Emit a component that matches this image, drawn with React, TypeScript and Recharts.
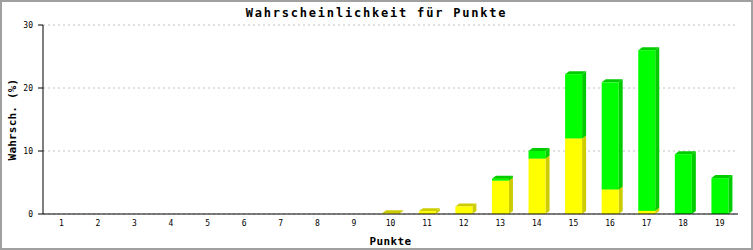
import React from "react";
import {
  BarChart,
  Bar,
  XAxis,
  YAxis,
  CartesianGrid,
  Label,
} from "recharts";

const MONO = '"DejaVu Sans Mono", "Liberation Mono", monospace';

const punkte = [
  "1", "2", "3", "4", "5", "6", "7", "8", "9", "10",
  "11", "12", "13", "14", "15", "16", "17", "18", "19",
];

// yellow part (lower stack)
const gelb = [0, 0, 0, 0, 0, 0, 0, 0, 0, 0.1, 0.45, 1.2, 5.3, 8.8, 12.0, 3.9, 0.5, 0, 0];

// green part (upper stack)
const gruen = [0, 0, 0, 0, 0, 0, 0, 0, 0, 0, 0, 0, 0.3, 1.2, 10.2, 17.0, 25.5, 9.5, 5.7];

const yTicks = [0, 10, 20, 30];

const data = punkte.map((p, i) => ({
  punkte: p,
  gelb: gelb[i],
  gruen: gruen[i],
}));

const DX = 4;
const DY = 3;

function make3D(front: string, dark: string) {
  return (props: any) => {
    const { x, y, width, height } = props;
    if (!height || height <= 0) return <g />;
    const r = x + width;
    const b = y + height;
    return (
      <g>
        <polygon
          points={`${x},${y} ${x + DX},${y - DY} ${r + DX},${y - DY} ${r},${y}`}
          fill={dark}
        />
        <polygon
          points={`${r},${y} ${r + DX},${y - DY} ${r + DX},${b - DY} ${r},${b}`}
          fill={dark}
        />
        <rect x={x} y={y} width={width} height={height} fill={front} />
      </g>
    );
  };
}

export default function App() {
  return (
    <div
      style={{
        position: "absolute",
        left: 0,
        top: 0,
        width: 753,
        height: 250,
        background: "#fff",
        fontFamily: MONO,
      }}
    >
      <div
        style={{
          position: "absolute",
          left: 0,
          top: 4,
          width: 753,
          textAlign: "center",
          fontSize: 12,
          fontWeight: "bold",
          letterSpacing: 1.8,
          lineHeight: "18px",
        }}
      >
        Wahrscheinlichkeit für Punkte
      </div>

      <BarChart
        width={753}
        height={250}
        data={data}
        margin={{ top: 25, right: 15, bottom: 0, left: 0 }}
        barSize={17}
        style={{ position: "absolute", left: 0, top: 0 }}
      >
        <CartesianGrid vertical={false} stroke="#c0c0c0" strokeDasharray="2 3" />
        <XAxis
          dataKey="punkte"
          height={36}
          axisLine={{ stroke: "#000" }}
          tickLine={false}
          tickSize={6}
          tickMargin={0}
          tick={{ fill: "#000", fontSize: 8, fontFamily: MONO }}
          interval={0}
        >
          <Label
            value="Punkte"
            position="insideBottom"
            offset={5}
            style={{
              fontFamily: MONO,
              fontSize: 11,
              fontWeight: "bold",
              fill: "#000",
              letterSpacing: 0.4,
            }}
          />
        </XAxis>
        <YAxis
          width={43}
          domain={[0, 30]}
          ticks={yTicks}
          axisLine={{ stroke: "#000" }}
          tickLine={{ stroke: "#000" }}
          tickSize={5}
          tickMargin={5}
          tick={{ fill: "#000", fontSize: 8, fontFamily: MONO }}
        >
          <Label
            content={(p: any) => {
              const vb = p.viewBox || { y: 25, height: 189 };
              const cy = vb.y + vb.height / 2;
              return (
                <text
                  x={12}
                  y={cy}
                  transform={`rotate(-90, 12, ${cy})`}
                  textAnchor="middle"
                  dominantBaseline="central"
                  style={{
                    fontFamily: MONO,
                    fontSize: 11,
                    fontWeight: "bold",
                    fill: "#000",
                    letterSpacing: 0.2,
                  }}
                >
                  Wahrsch. (%)
                </text>
              );
            }}
          />
        </YAxis>
        <YAxis
          yAxisId="r"
          orientation="right"
          width={0}
          domain={[0, 30]}
          tick={false}
          tickLine={false}
          axisLine={{ stroke: "#000" }}
        />
        <Bar
          dataKey="gelb"
          stackId="a"
          fill="#ffff00"
          shape={make3D("#ffff00", "#cccc00")}
          isAnimationActive={false}
        />
        <Bar
          dataKey="gruen"
          stackId="a"
          fill="#00ff00"
          shape={make3D("#00ff00", "#00cc00")}
          isAnimationActive={false}
        />
      </BarChart>

      <div
        style={{
          position: "absolute",
          left: 0,
          top: 0,
          width: 753,
          height: 250,
          boxSizing: "border-box",
          border: "2px solid #a0a0a0",
          pointerEvents: "none",
        }}
      />
    </div>
  );
}
